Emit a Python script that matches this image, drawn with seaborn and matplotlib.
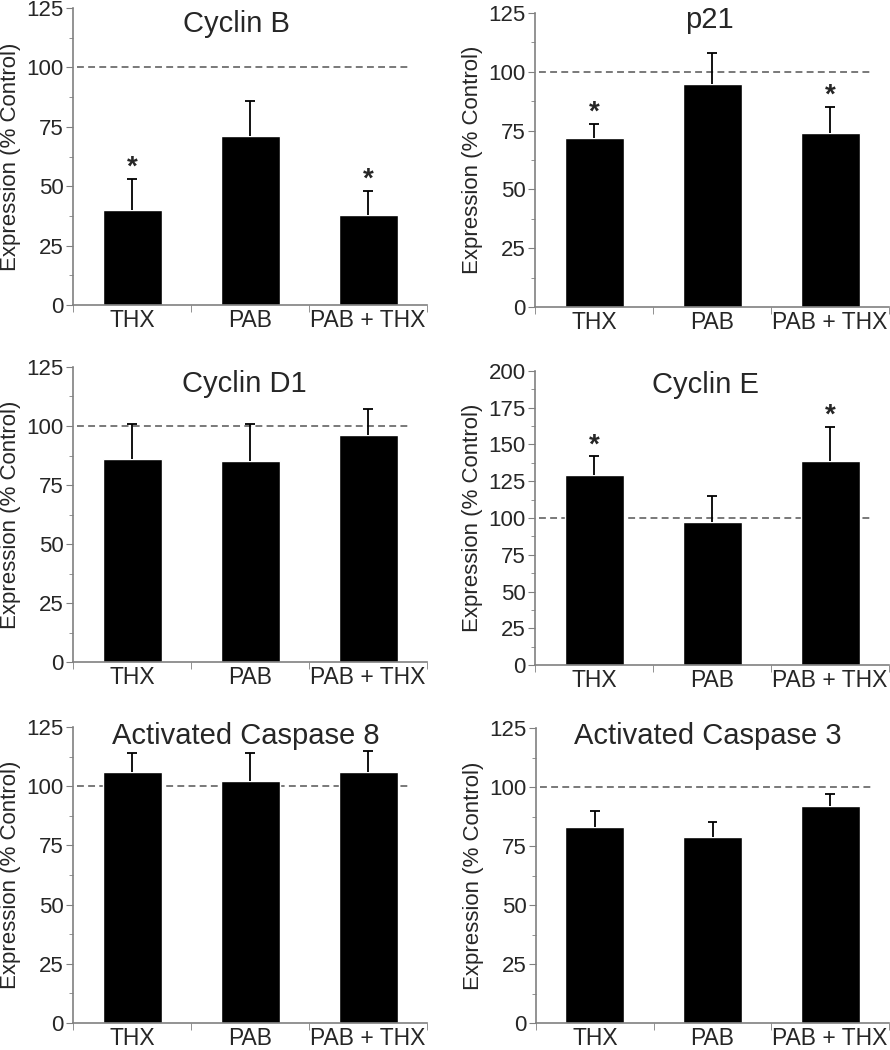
import numpy as np
import pandas as pd
import matplotlib
matplotlib.use('Agg')
import matplotlib.pyplot as plt
import seaborn as sns
from matplotlib.ticker import MultipleLocator, FixedLocator

groups = ['THX', 'PAB', 'PAB + THX']

titles = ['Cyclin B', 'p21', 'Cyclin D1', 'Cyclin E',
          'Activated Caspase 8', 'Activated Caspase 3']

cyclin_b = [40, 71, 38]
cyclin_b_err = [13, 15, 10]
p21 = [72, 95, 74]
p21_err = [6, 13, 11]
cyclin_d1 = [86, 85, 96]
cyclin_d1_err = [15, 16, 11]
cyclin_e = [129, 97, 139]
cyclin_e_err = [13, 18, 23]
casp8 = [106, 102, 106]
casp8_err = [8, 12, 9]
casp3 = [83, 79, 92]
casp3_err = [7, 6, 5]

# which bars get a significance star
stars_b = [True, False, True]
stars_p21 = [True, False, True]
stars_d1 = [False, False, False]
stars_e = [True, False, True]
stars_c8 = [False, False, False]
stars_c3 = [False, False, False]

ymax = [125, 125, 125, 200, 125, 125]

sns.set_style('white')
plt.rcParams['font.family'] = ['Liberation Sans', 'DejaVu Sans']

W, H = 890, 1050
fig = plt.figure(figsize=(W / 100, H / 100), dpi=100)

# axes boxes in pixels: left, top, right, bottom
boxes = [
    (73, 8, 427, 305),
    (535, 13, 889, 307),
    (73, 367, 427, 662),
    (535, 371, 889, 665),
    (73, 727, 427, 1023),
    (536, 728, 889, 1023),
]
# title placement: x as axes fraction, baseline in px below the axes top
title_x = [0.462, 0.494, 0.483, 0.483, 0.489, 0.486]
title_drop = [24, 15, 25, 22, 17, 16]

panels = [
    (cyclin_b, cyclin_b_err, stars_b),
    (p21, p21_err, stars_p21),
    (cyclin_d1, cyclin_d1_err, stars_d1),
    (cyclin_e, cyclin_e_err, stars_e),
    (casp8, casp8_err, stars_c8),
    (casp3, casp3_err, stars_c3),
]

spine_col = '#808080'

for i, (vals, errs, stars) in enumerate(panels):
    l, t, r, b = boxes[i]
    ax = fig.add_axes([l / W, 1 - b / H, (r - l) / W, (b - t) / H])
    df = pd.DataFrame({'group': groups, 'value': vals})
    sns.barplot(data=df, x='group', y='value', color='black', width=0.5,
                errorbar=None, ax=ax, saturation=1)

    # upper-only error bars
    x = np.arange(len(groups))
    tops = np.array(vals) + np.array(errs)
    ax.vlines(x, vals, tops, color='black', lw=1.3, zorder=3)
    ax.hlines(tops, x - 0.04, x + 0.04, color='black', lw=1.3, zorder=3)

    ax.axhline(100, xmin=0.01, xmax=0.955, color='#555555', lw=1.1,
               ls=(0, (4.5, 2.8)), zorder=0.5)
    for j, s in enumerate(stars):
        if s:
            ax.annotate('*', (j, tops[j]), xytext=(0, 8),
                        textcoords='offset points', ha='center', va='center',
                        fontsize=20, fontweight='bold')

    ax.set_xlim(-0.5, 2.5)
    ax.set_ylim(0, ymax[i])
    ax.yaxis.set_major_locator(MultipleLocator(25))
    ax.yaxis.set_minor_locator(MultipleLocator(12.5))
    ax.xaxis.set_minor_locator(FixedLocator([-0.5, 0.5, 1.5, 2.5]))
    ax.tick_params(axis='x', which='major', length=0, labelsize=16.5, pad=3)
    ax.tick_params(axis='x', which='minor', length=5, color=spine_col,
                   direction='out', bottom=True)
    ax.tick_params(axis='y', which='major', length=5, color=spine_col,
                   labelsize=16, left=True, direction='out', pad=1.5)
    ax.tick_params(axis='y', which='minor', length=3, color=spine_col,
                   left=True, direction='out')
    for side in ['top', 'right']:
        ax.spines[side].set_visible(False)
    for side in ['left', 'bottom']:
        ax.spines[side].set_color(spine_col)
        ax.spines[side].set_linewidth(1.2)
    ax.set_xlabel('')
    ax.set_ylabel('Expression (% Control)', fontsize=16, labelpad=4)
    ax.text(title_x[i], 1 - title_drop[i] / (b - t), titles[i],
            transform=ax.transAxes, ha='center', va='baseline', fontsize=21)

fig.savefig('out.png', dpi=100)
